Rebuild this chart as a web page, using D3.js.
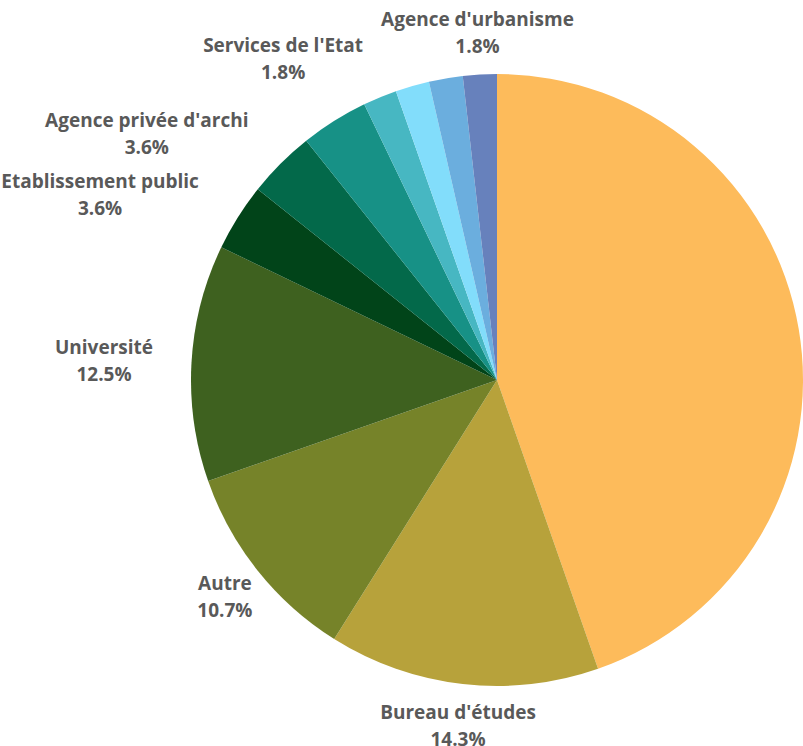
<!DOCTYPE html>
<html>
<head>
<meta charset="utf-8">
<script src="https://cdn.jsdelivr.net/npm/d3@7"></script>
<style>
    body { margin: 0; background: #ffffff; }
    svg { display: block; }
</style>
</head>
<body>
<div id="chart"></div>
<script>
"use strict";

//Slice data (counts out of 56 answers), clockwise from 12 o'clock.
//null names are slices whose label is not shown in the chart.
var names = [null, "Bureau d'études", "Autre", "Université", "Etablissement public",
    "Agence privée d'archi", null, "Services de l'Etat", null, null, "Agence d'urbanisme"];
var counts = [25, 8, 6, 7, 2, 2, 2, 1, 1, 1, 1];
var colors = ["#FDBB5B", "#B7A23B", "#768329", "#3E611F", "#014419",
    "#03694A", "#179186", "#47B7C2", "#82DDFB", "#6BAEDE", "#6781BC"];

var width = 803,
        height = 746,
        cx = 497,
        cy = 380,
        radius = 306;

var svg = d3.select("#chart")
        .append("svg")
        .attr("width", width)
        .attr("height", height);

var g = svg.append("g")
        .attr("transform", "translate(" + cx + "," + cy + ")");

var total = d3.sum(counts);
var pie = d3.pie().sort(null).value(function (d) {
    return d;
});
var arcs = pie(counts);
var arc = d3.arc().innerRadius(0).outerRadius(radius);

//draw the slices
g.selectAll("path.slice")
        .data(arcs)
        .enter()
        .append("path")
        .attr("class", "slice")
        .attr("d", arc)
        .attr("fill", function (d, i) {
            return colors[i];
        });

//labels: placed on the mid-angle ray, then pushed sideways
//away from the pie and from labels already placed
var labelR = 348,
        gapPie = 38,
        gapLabel = 18;

var labelData = arcs.map(function (d, i) {
    return {arc: d, name: names[i], pct: (d.value * 100 / total).toFixed(1) + "%"};
}).filter(function (d) {
    return d.name !== null;
});

var labels = g.selectAll("text.label")
        .data(labelData)
        .enter()
        .append("text")
        .attr("class", "label")
        .attr("text-anchor", "middle")
        .style("font-family", "'Open Sans', sans-serif")
        .style("font-weight", "bold")
        .style("font-size", "19px")
        .style("fill", "#595959");

labels.append("tspan").attr("class", "l1").text(function (d) {
    return d.name;
});
labels.append("tspan").attr("class", "l2").text(function (d) {
    return d.pct;
});

labels.each(function (d) {
    var w1 = d3.select(this).select(".l1").node().getComputedTextLength();
    var w2 = d3.select(this).select(".l2").node().getComputedTextLength();
    d.w = Math.max(w1, w2);
    d.mid = (d.arc.startAngle + d.arc.endAngle) / 2;
});

//closest to the top first
var order = labelData.slice().sort(function (a, b) {
    var da = Math.min(a.mid, 2 * Math.PI - a.mid);
    var db = Math.min(b.mid, 2 * Math.PI - b.mid);
    return da - db;
});

function circleHalfWidth(top, bottom) {
    var dy = (top <= 0 && bottom >= 0) ? 0 : Math.min(Math.abs(top), Math.abs(bottom));
    return dy >= radius ? 0 : Math.sqrt(radius * radius - dy * dy);
}

function hitsCircle(b) {
    var nx = Math.max(b.left, Math.min(0, b.right));
    var ny = Math.max(b.top, Math.min(0, b.bottom));
    return Math.sqrt(nx * nx + ny * ny) < radius;
}

var placed = [];
order.forEach(function (d) {
    var side = Math.sin(d.mid) < 0 ? -1 : 1;
    var x = Math.sin(d.mid) * labelR;
    var y = -Math.cos(d.mid) * labelR;
    var box = {left: x - d.w / 2, right: x + d.w / 2, top: y - 21, bottom: y + 24};

    if (hitsCircle(box)) {
        var ext = circleHalfWidth(box.top, box.bottom) + gapPie;
        x = side < 0 ? -ext - d.w / 2 : ext + d.w / 2;
    }
    placed.forEach(function (p) {
        var overlapY = box.top < p.bottom && box.bottom > p.top;
        if (!overlapY) {
            return;
        }
        if (side < 0 && x + d.w / 2 > p.left - gapLabel) {
            x = p.left - gapLabel - d.w / 2;
        }
        if (side > 0 && x - d.w / 2 < p.right + gapLabel) {
            x = p.right + gapLabel + d.w / 2;
        }
    });
    box.left = x - d.w / 2;
    box.right = x + d.w / 2;
    placed.push(box);
    d.x = x;
    d.y = y;
});

labels.select(".l1")
        .attr("x", function (d) {
            return d.x;
        })
        .attr("y", function (d) {
            return d.y - 6.5;
        });
labels.select(".l2")
        .attr("x", function (d) {
            return d.x;
        })
        .attr("y", function (d) {
            return d.y + 20.5;
        });
</script>
</body>
</html>
